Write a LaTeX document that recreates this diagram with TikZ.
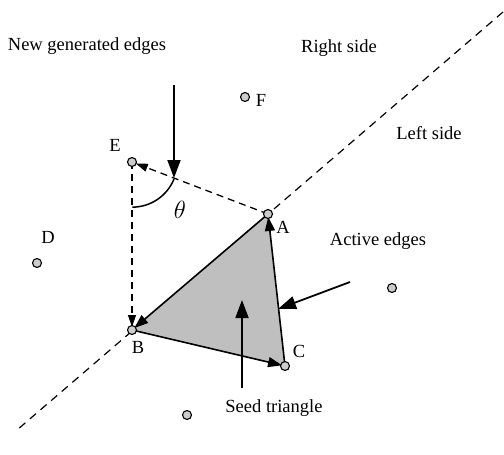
\documentclass[tikz,border=0pt]{standalone}
\usepackage{fontspec}
\setmainfont{Liberation Serif}
\usetikzlibrary{arrows.meta}
\begin{document}
\begin{tikzpicture}[x=1pt,y=-1pt,
  pt/.style={circle,draw,line width=1.1pt,fill=gray!40,inner sep=0pt,minimum size=9pt},
  lbl/.style={font=\fontsize{18.5}{20}\selectfont,inner sep=0pt},
  bigarrow/.style={line width=1.8pt,-{Triangle[length=18pt,width=13pt]}},
  edgearrow/.style={line width=1.6pt,-{Triangle[length=14pt,width=10pt]}},
  dasharrow/.style={line width=1.3pt,dash pattern=on 7pt off 5pt,-{Triangle[length=12pt,width=8pt]}},
  divline/.style={line width=1.2pt,dash pattern=on 8pt off 6pt}]
\useasboundingbox (0,0) rectangle (504,455);
\coordinate (A) at (268,214);
\coordinate (B) at (132,330);
\coordinate (C) at (285,366);
\coordinate (E) at (132,162);
\coordinate (top) at (503,12);
\coordinate (bot) at (17,430);
% dividing line
\draw[divline] (top) -- (bot);
% triangle
\fill[gray!50] (A) -- (B) -- (C) -- cycle;
\draw[edgearrow,shorten >=3pt] (B) -- (C);
\draw[edgearrow,shorten >=3pt] (C) -- (A);
\draw[edgearrow,shorten >=3pt] (A) -- (B);
% dashed new edges
\draw[dasharrow,shorten >=4pt] (A) -- (E);
\draw[dasharrow,shorten >=3pt] (E) -- (B);
% theta arc
\draw[line width=1.5pt] (174,179) arc[start angle=22,end angle=90,radius=45];
\node[lbl,font=\fontsize{24}{26}\selectfont] (theta) at (180,210) {$\theta$};
% points
\node[pt] (pA) at (A) {};
\node[pt] (pB) at (B) {};
\node[pt] (pC) at (C) {};
\node[pt] (pE) at (E) {};
\node[pt] (pF) at (245,97) {};
\node[pt] (pD) at (37,263) {};
\node[pt] (pG) at (187,415) {};
\node[pt] (pH) at (392,288) {};
% labels
\node[lbl] (lA) at (283,227) {A};
\node[lbl] (lB) at (138,347) {B};
\node[lbl] (lC) at (299,351) {C};
\node[lbl] (lD) at (48,237) {D};
\node[lbl] (lE) at (115,145) {E};
\node[lbl] (lF) at (261,100) {F};
\node[lbl] (newl) at (87,46) {New generated edges};
\node[lbl] (right) at (339,48) {Right side};
\node[lbl] (left) at (429,133) {Left side};
\node[lbl] (active) at (378,241) {Active edges};
\node[lbl] (seed) at (274,408) {Seed triangle};
% big arrows
\coordinate (n0) at (174,85);
\coordinate (n1) at (174,178);
\draw[bigarrow] (n0) -- (n1);
\coordinate (a0) at (350,282);
\coordinate (a1) at (278,309);
\draw[bigarrow] (a0) -- (a1);
\coordinate (s0) at (242,388);
\coordinate (s1) at (242,300);
\draw[bigarrow] (s0) -- (s1);
\end{tikzpicture}
\end{document}
